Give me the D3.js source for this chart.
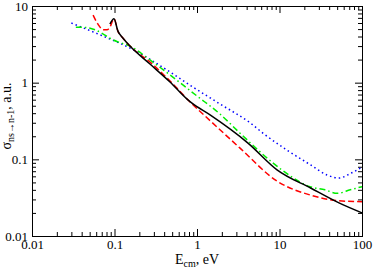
<!DOCTYPE html>
<html>
<head>
<meta charset="utf-8">
<script src="https://cdn.jsdelivr.net/npm/d3@7"></script>
<style>
  html, body { margin: 0; padding: 0; background: #fff; }
  svg text { font-family: "Liberation Serif", "DejaVu Serif", serif; }
</style>
</head>
<body>
<div id="chart"></div>
<script>
// cross sections (E in eV, sigma in a.u.)
var blackE = [0.088, 0.0986, 0.11, 0.127, 0.154, 0.269, 0.471, 0.757, 0.869, 1.44, 4.15, 9.33, 24.1, 52.6, 100];
var blackS = [5.8, 6.8, 4.7, 3.8, 3.0, 1.75, 1.02, 0.61, 0.54, 0.38, 0.163, 0.073, 0.042, 0.027, 0.020];

var redE = [0.055, 0.063, 0.073, 0.081, 0.088, 0.0986, 0.11, 0.127, 0.154, 0.269, 0.471, 0.869, 1.44, 3.3, 9.33, 24.1, 48.4, 100];
var redS = [7.6, 5.8, 4.9, 4.9, 5.3, 6.8, 4.7, 3.8, 3.0, 1.86, 1.05, 0.53, 0.32, 0.141, 0.052, 0.034, 0.029, 0.028];

var greenE = [0.034, 0.048, 0.058, 0.073, 0.088, 0.11, 0.154, 0.269, 0.471, 1.0, 1.9, 3.3, 8.3, 13.4, 23.4, 35.6, 50, 72, 100];
var greenS = [5.3, 5.2, 4.9, 4.3, 3.8, 3.4, 3.0, 1.98, 1.26, 0.67, 0.39, 0.221, 0.090, 0.061, 0.044, 0.040, 0.036, 0.040, 0.044];

var blueE = [0.03, 0.067, 0.154, 0.471, 0.82, 1.9, 4.4, 6.5, 12.3, 24.1, 37.6, 52.6, 73.6, 100];
var blueS = [6.0, 4.2, 2.83, 1.38, 0.93, 0.527, 0.30, 0.214, 0.132, 0.084, 0.0625, 0.057, 0.066, 0.079];

var xMajor = [0.01, 0.1, 1, 10, 100];
var xLabels = ["0.01", "0.1", "1", "10", "100"];
var yMajor = [0.01, 0.1, 1, 10];
var yLabels = ["0.01", "0.1", "1", "10"];

document.addEventListener('DOMContentLoaded', function () {
  var W = 374, H = 270;
  var margin = { top: 6, right: 12, bottom: 34, left: 32 },
      width = W - margin.left - margin.right,
      height = H - margin.top - margin.bottom;

  var svg = d3.select("#chart").append("svg")
      .attr("width", W)
      .attr("height", H);

  var g = svg.append("g")
      .attr("transform", "translate(" + margin.left + "," + margin.top + ")");

  var x = d3.scaleLog().domain([0.01, 100]).range([0, width]);
  var y = d3.scaleLog().domain([0.01, 10]).range([height, 0]);

  // minor ticks 2..9 in each decade
  function minors(lo, hi) {
    var out = [];
    for (var d = lo; d < hi; d *= 10)
      for (var k = 2; k <= 9; k++) out.push(d * k);
    return out;
  }
  var xMinor = minors(0.01, 100), yMinor = minors(0.01, 10);

  var fmtX = function(d) { return xLabels[xMajor.indexOf(d)]; };
  var fmtY = function(d) { return yLabels[yMajor.indexOf(d)]; };

  function style(sel) {
    sel.select(".domain").remove();
    sel.selectAll("line").attr("stroke", "#000");
    sel.selectAll("text").attr("font-size", 13).attr("fill", "#000")
       .attr("font-family", "'Liberation Serif', serif");
  }

  // bottom
  g.append("g").attr("transform", "translate(0," + height + ")")
    .call(d3.axisBottom(x).tickValues(xMajor).tickSize(-7).tickPadding(4).tickFormat(fmtX)).call(style);
  g.append("g").attr("transform", "translate(0," + height + ")")
    .call(d3.axisBottom(x).tickValues(xMinor).tickSize(-4).tickFormat("")).call(style);
  // top
  g.append("g").call(d3.axisTop(x).tickValues(xMajor).tickSize(-7).tickFormat("")).call(style);
  g.append("g").call(d3.axisTop(x).tickValues(xMinor).tickSize(-4).tickFormat("")).call(style);
  // left
  g.append("g")
    .call(d3.axisLeft(y).tickValues(yMajor).tickSize(-7).tickPadding(4).tickFormat(fmtY)).call(style);
  g.append("g").call(d3.axisLeft(y).tickValues(yMinor).tickSize(-4).tickFormat("")).call(style);
  // right
  g.append("g").attr("transform", "translate(" + width + ",0)")
    .call(d3.axisRight(y).tickValues(yMajor).tickSize(-7).tickFormat("")).call(style);
  g.append("g").attr("transform", "translate(" + width + ",0)")
    .call(d3.axisRight(y).tickValues(yMinor).tickSize(-4).tickFormat("")).call(style);

  g.append("rect")
      .attr("x", 0.5).attr("y", 0.5)
      .attr("width", width).attr("height", height)
      .attr("fill", "none").attr("stroke", "#000").attr("stroke-width", 1);

  var line = d3.line()
      .x(function(d) { return x(d[0]); })
      .y(function(d) { return y(d[1]); })
      .curve(d3.curveMonotoneX);

  function zip(a, b) { return a.map(function(v, i) { return [v, b[i]]; }); }

  var series = [
    { data: zip(blueE, blueS), color: "#0000ff", dash: "1.5,3", w: 1.5 },
    { data: zip(greenE, greenS), color: "#00ee00", dash: "6,3,1.5,3", w: 1.5 },
    { data: zip(redE, redS), color: "#ff0000", dash: "6,3", w: 1.5 },
    { data: zip(blackE, blackS), color: "#000000", dash: null, w: 1.5 }
  ];

  g.append("g").selectAll("path")
      .data(series)
      .enter().append("path")
      .attr("d", function(d) { return line(d.data); })
      .attr("fill", "none")
      .attr("stroke", function(d) { return d.color; })
      .attr("stroke-width", function(d) { return d.w; })
      .attr("stroke-dasharray", function(d) { return d.dash; });

  // axis titles
  var xt = svg.append("text")
      .attr("x", margin.left + width / 2)
      .attr("y", 264)
      .attr("text-anchor", "middle")
      .attr("font-size", 14);
  xt.append("tspan").text("E");
  xt.append("tspan").attr("font-size", 10).attr("dy", 3).text("cm");
  xt.append("tspan").attr("dy", -3).text(", eV");

  var yt = svg.append("text")
      .attr("transform", "translate(11,116) rotate(-90)")
      .attr("text-anchor", "middle")
      .attr("font-size", 14);
  yt.append("tspan").text("σ");
  yt.append("tspan").attr("font-size", 10).attr("dy", 3).text("ns→n-1");
  yt.append("tspan").attr("dy", -3).text(", a.u.");
});
</script>
</body>
</html>
